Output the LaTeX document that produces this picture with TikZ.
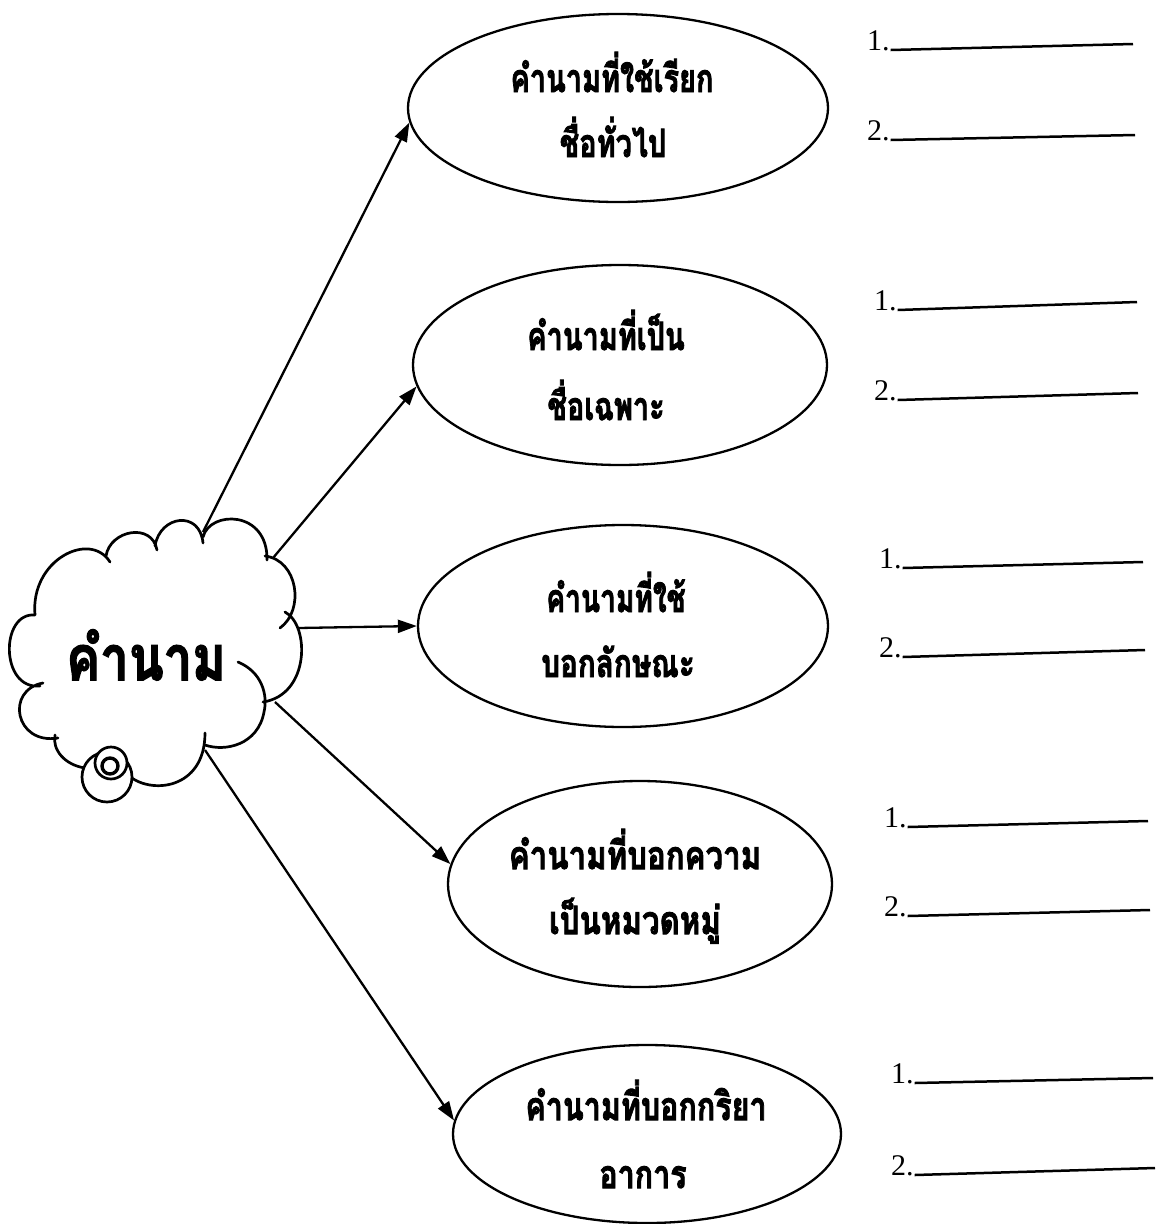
\documentclass[tikz,border=0pt]{standalone}
\usepackage{fontspec}
\setmainfont{Liberation Serif}
\newfontfamily\thai[Script=Thai,BoldFeatures={FakeBold=2.5}]{Loma}
\usetikzlibrary{shapes.geometric,arrows.meta}
\newcommand\sqz[2]{\scalebox{#1}[1]{#2}}
\begin{document}
\begin{tikzpicture}[x=1pt,y=-1pt, line width=2.2pt,
  oval/.style={ellipse,draw,inner sep=0pt,line width=2.3pt},
  lbl/.style={anchor=base,inner sep=0pt,font=\thai\bfseries\fontsize{39}{44}\selectfont},
  big/.style={anchor=base,inner sep=0pt,font=\thai\bfseries\fontsize{62}{64}\selectfont},
  num/.style={anchor=base west,inner sep=0pt,font=\fontsize{30}{32}\selectfont},
  arr/.style={line width=2.3pt,-{Triangle[length=19pt,width=13pt]}},
  blank/.style={line width=2.5pt},
  cloudline/.style={line width=2.7pt,line cap=round,line join=round}]
\useasboundingbox (0,0) rectangle (1161,1224);

% ---- ellipses ----
\node[oval,minimum width=420pt,minimum height=188pt] (e1) at (618,108) {};
\node[oval,minimum width=414pt,minimum height=200pt] (e2) at (620,365) {};
\node[oval,minimum width=410pt,minimum height=202pt] (e3) at (623,626) {};
\node[oval,minimum width=384pt,minimum height=206pt] (e4) at (640,884) {};
\node[oval,minimum width=388pt,minimum height=178pt] (e5) at (647,1134) {};

% ---- ellipse texts ----
\node[lbl] (t1a) at (612,92) {\sqz{0.74}{คำนามที่ใช้เรียก}};
\node[lbl] (t1b) at (613,157) {\sqz{0.74}{ชื่อทั่วไป}};
\node[lbl] (t2a) at (606,350) {\sqz{0.74}{คำนามที่เป็น}};
\node[lbl] (t2b) at (606,420) {\sqz{0.74}{ชื่อเฉพาะ}};
\node[lbl] (t3a) at (616,612) {\sqz{0.72}{คำนามที่ใช้}};
\node[lbl] (t3b) at (618,677) {\sqz{0.76}{บอกลักษณะ}};
\node[lbl] (t4a) at (635,869) {\sqz{0.8}{คำนามที่บอกความ}};
\node[lbl] (t4b) at (635,934) {\sqz{0.8}{เป็นหมวดหมู่}};
\node[lbl] (t5a) at (646,1120) {\sqz{0.78}{คำนามที่บอกกริยา}};
\node[lbl] (t5b) at (643,1188) {\sqz{0.78}{อาการ}};

% ---- cloud ----
\draw[cloudline]
  (35,615) .. controls (30,560) and (90,530) .. (110,562)
  (106,556) .. controls (110,530) and (152,522) .. (157,550)
  (155,546) .. controls (160,515) and (200,510) .. (203,543)
  (203,537) .. controls (210,510) and (268,510) .. (267,560)
  (265,556) .. controls (298,560) and (305,610) .. (280,628)
  (285,612) .. controls (310,625) and (310,695) .. (263,702)
  (238,662) .. controls (262,672) and (268,695) .. (264,712)
            .. controls (258,745) and (225,752) .. (205,745)
  (205,733) .. controls (205,790) and (150,795) .. (128,775)
  (128,775) .. controls (115,790) and (95,790) .. (85,768)
  (85,768) .. controls (65,765) and (52,750) .. (55,735)
  (58,738) .. controls (15,745) and (5,690) .. (43,683)
  (40,686) .. controls (0,690) and (0,612) .. (35,615);
\node[big] (noun) at (146,680) {\sqz{0.82}{คำนาม}};

% bubble
\draw[cloudline,fill=white] (107,777) circle[radius=25];
\draw[cloudline,fill=white] (111,763) circle[radius=16];
\draw[line width=3.4pt] (110,766) circle[radius=8];

% ---- arrows ----
\coordinate (s1) at (203,532);
\coordinate (s2) at (273,558);
\coordinate (s3) at (298,628);
\coordinate (s4) at (275,702);
\coordinate (s5) at (205,750);
\draw[arr] (s1) -- (e1.184);
\draw[arr] (s2) -- (e2.186);
\draw[arr] (s3) -- (e3.180);
\draw[arr] (s4) -- (e4.174);
\draw[arr] (s5) -- (e5.176);

% ---- blanks ----
\node[num] (a1) at (866,50) {1.};
\node[num] (a2) at (866,140) {2.};
\node[num] (b1) at (873,310) {1.};
\node[num] (b2) at (873,400) {2.};
\node[num] (c1) at (878,568) {1.};
\node[num] (c2) at (878,657) {2.};
\node[num] (d1) at (883,827) {1.};
\node[num] (d2) at (883,916) {2.};
\node[num] (f1) at (890,1083) {1.};
\node[num] (f2) at (890,1175) {2.};
\coordinate (a1e) at (1133,44);
\coordinate (a2e) at (1135,135);
\coordinate (b1e) at (1137,302);
\coordinate (b2e) at (1138,393);
\coordinate (c1e) at (1143,562);
\coordinate (c2e) at (1145,650);
\coordinate (d1e) at (1148,821);
\coordinate (d2e) at (1150,910);
\coordinate (f1e) at (1153,1078);
\coordinate (f2e) at (1155,1168);
\foreach \n in {a1,a2,b1,b2,c1,c2,d1,d2,f1,f2}
  \draw[blank] (\n.base east) -- (\n e);
\end{tikzpicture}
\end{document}
